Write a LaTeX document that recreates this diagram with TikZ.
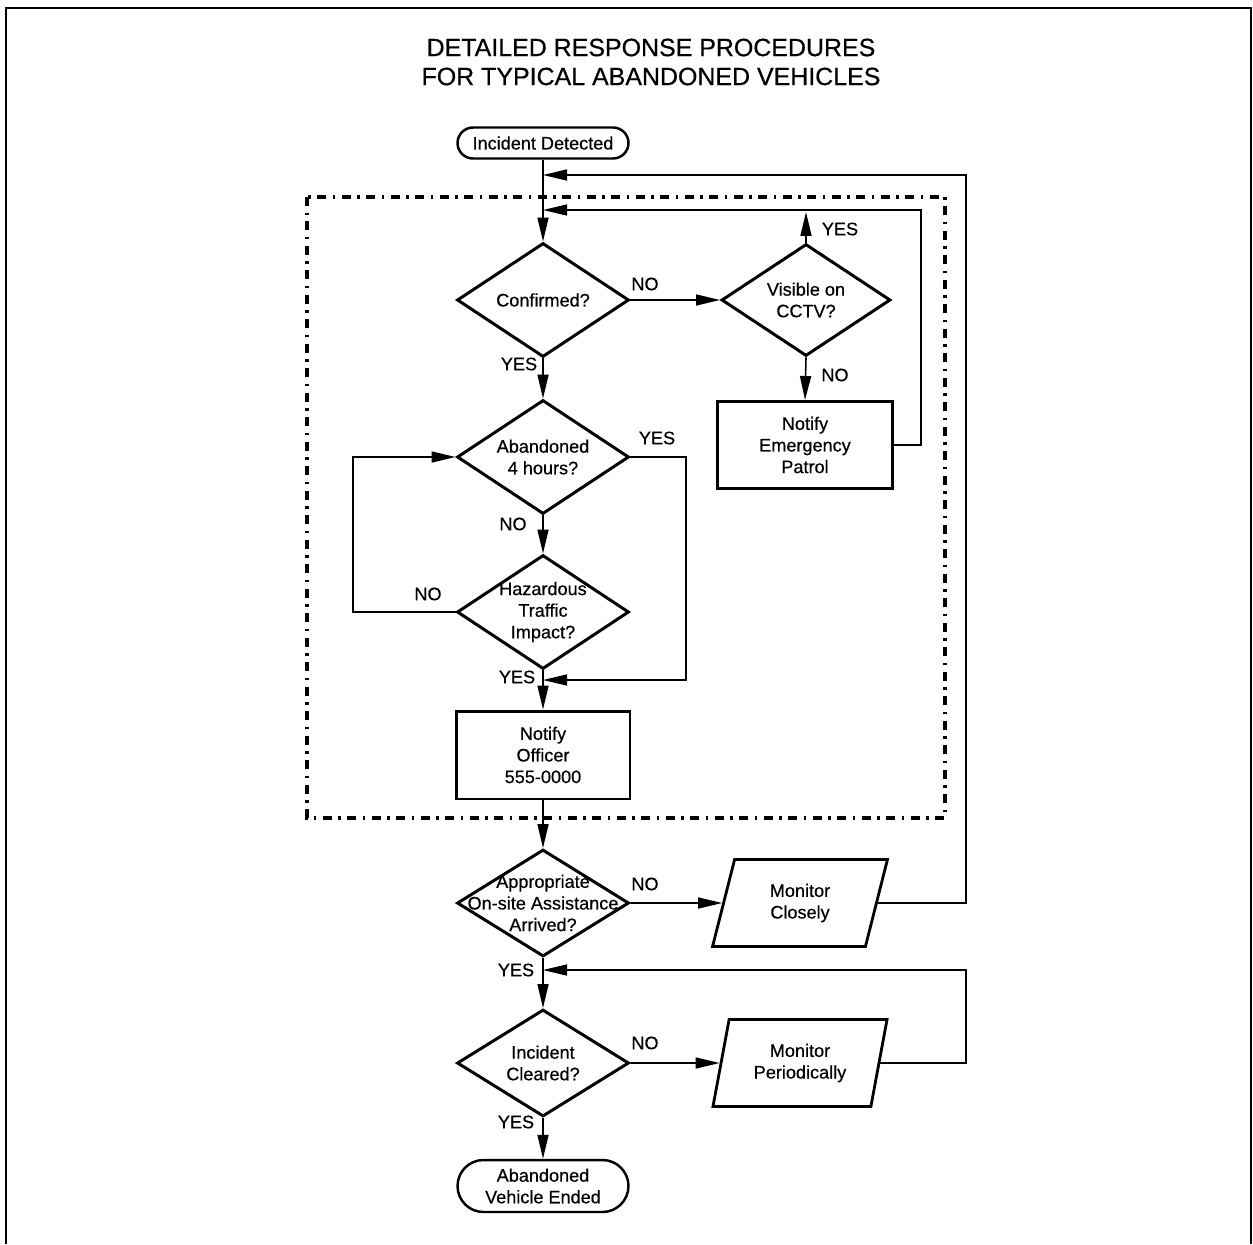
\documentclass[tikz,border=0pt]{standalone}
\usepackage{fontspec}
\setmainfont{Liberation Sans}[FakeBold=0.5]
\usetikzlibrary{shapes.geometric,shapes.misc,arrows.meta}

\begin{document}
\begin{tikzpicture}[x=0.02cm,y=-0.02cm,
  txt/.style={font=\fontsize{10.3}{12.3}\selectfont,align=center,inner sep=0pt},
  dec/.style={diamond,draw,line width=1.7pt,minimum width=3.44cm,minimum height=2.28cm,inner sep=0pt},
  proc/.style={rectangle,draw,line width=1.7pt,minimum width=3.48cm,minimum height=1.76cm,inner sep=0pt},
  term/.style={rounded rectangle,draw,line width=1.4pt,minimum width=3.42cm,inner sep=0pt},
  io/.style={trapezium,trapezium left angle=76,trapezium right angle=104,trapezium stretches=true,
    draw,line width=1.6pt,minimum width=3.5cm,minimum height=1.74cm,inner sep=2pt,
    font=\fontsize{10.3}{12.3}\selectfont,align=center},
  arr/.style={-{Triangle[length=0.48cm,width=0.22cm]},line width=0.9pt}]
\useasboundingbox (0,0) rectangle (1253,1244);
% frame
\draw[line width=1pt] (6,1244) -- (6,8) -- (1251,8) -- (1251,1244);
\node[font=\fontsize{14.2}{16.5}\selectfont,align=center] (title) at (651,62)
  {DETAILED RESPONSE PROCEDURES\\FOR TYPICAL ABANDONED VEHICLES};
% dash-dot group
\draw[line width=2pt,dash pattern=on 0.18cm off 0.13cm on 0.05cm off 0.13cm] (307,197) rectangle (945,818);

\node[term,minimum height=0.62cm] (start) at (543,143) {};
\node[txt] (start-t) at (start) {Incident Detected};
\node[dec] (conf) at (543,300) {};
\node[txt] (conf-t) at (conf) {Confirmed?};
\node[dec,minimum width=3.38cm,minimum height=2.24cm] (cctv) at (806,300) {};
\node[txt] (cctv-t) at (cctv) {Visible on\\CCTV?};
\node[proc,minimum width=3.5cm,minimum height=1.74cm] (patrol) at (805,445) {};
\node[txt] (patrol-t) at (patrol) {Notify\\Emergency\\Patrol};
\node[dec] (aband) at (543,457) {};
\node[txt] (aband-t) at (aband) {Abandoned\\4 hours?};
\node[dec] (haz) at (543,612) {};
\node[txt] (haz-t) at (haz) {Hazardous\\Traffic\\Impact?};
\node[proc] (officer) at (543,755) {};
\node[txt] (officer-t) at (officer) {Notify\\Officer\\555-0000};
\node[dec,minimum height=2.14cm] (assist) at (543,903) {};
\node[txt] (assist-t) at (assist) {Appropriate\\On-site Assistance\\Arrived?};
\node[io] (closely) at (800,903) {Monitor\\Closely};
\node[dec,minimum height=2.14cm] (cleared) at (543,1063) {};
\node[txt] (cleared-t) at (cleared) {Incident\\Cleared?};
\node[io] (periodic) at (800,1063) {Monitor\\Periodically};
\node[term,minimum height=1.04cm] (ended) at (543,1186) {};
\node[txt] (ended-t) at (ended) {Abandoned\\Vehicle Ended};

% joins
\coordinate (j1) at (543,175);
\coordinate (j2) at (543,210);
\coordinate (j3) at (543,680);
\coordinate (j4) at (543,970);
\coordinate (up) at (806,212);

\draw[arr] (start.south) -- (conf.north);
\draw[arr] (conf.south) -- (aband.north);
\draw[arr] (conf.east) -- (cctv.west);
\draw[arr] (cctv.north) -- (up);
\draw[arr] (cctv.south) -- (patrol.north);
\draw[arr] (patrol.east) -| (921,210) -- (j2);
\draw[arr] (aband.south) -- (haz.north);
\draw[arr] (aband.east) -| (686,680) -- (j3);
\draw[arr] (haz.west) -| (353,457) -- (aband.west);
\draw[arr] (haz.south) -- (officer.north);
\draw[arr] (officer.south) -- (assist.north);
\draw[arr] (assist.east) -- (closely.west);
\draw[arr] (closely.east) -| (966,175) -- (j1);
\draw[arr] (assist.south) -- (cleared.north);
\draw[arr] (cleared.east) -- (periodic.west);
\draw[arr] (periodic.east) -| (966,970) -- (j4);
\draw[arr] (cleared.south) -- (ended.north);

% labels
\node[txt] (l1) at (645,284) {NO};
\node[txt] (l2) at (840,229) {YES};
\node[txt] (l3) at (835,375) {NO};
\node[txt] (l4) at (519,364) {YES};
\node[txt] (l5) at (657,438) {YES};
\node[txt] (l6) at (513,524) {NO};
\node[txt] (l7) at (428,594) {NO};
\node[txt] (l8) at (517,677) {YES};
\node[txt] (l9) at (645,884) {NO};
\node[txt] (l10) at (516,970) {YES};
\node[txt] (l11) at (645,1043) {NO};
\node[txt] (l12) at (516,1122) {YES};
\end{tikzpicture}
\end{document}
